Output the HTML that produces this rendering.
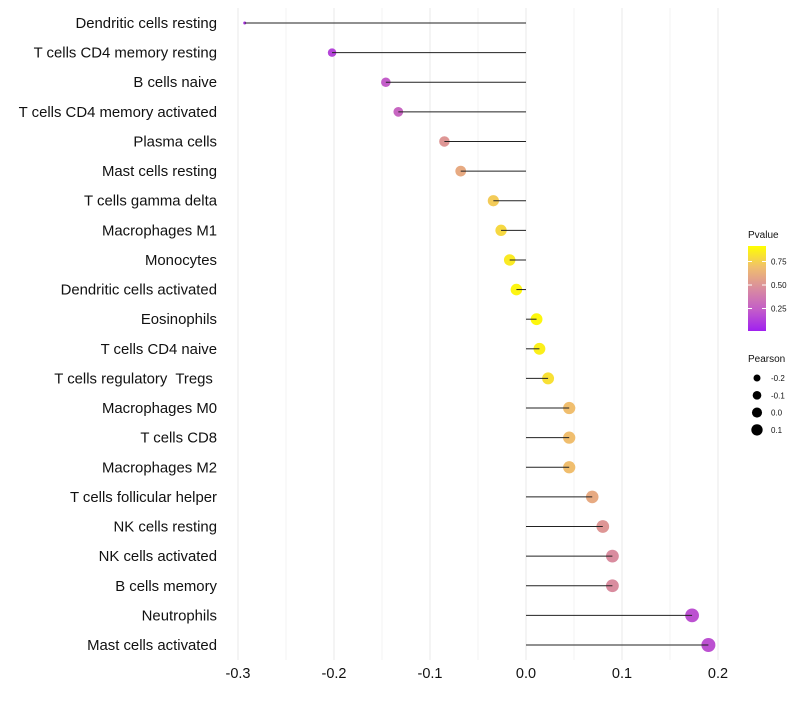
<!DOCTYPE html>
<html><head><meta charset="utf-8"><style>
body{margin:0;background:#fff;font-family:"Liberation Sans",sans-serif}
svg text{font-family:"Liberation Sans",sans-serif;white-space:pre}
</style></head><body>
<svg id="c" width="800" height="700"></svg>
<script>
const categories=["Dendritic cells resting","T cells CD4 memory resting","B cells naive","T cells CD4 memory activated","Plasma cells","Mast cells resting","T cells gamma delta","Macrophages M1","Monocytes","Dendritic cells activated","Eosinophils","T cells CD4 naive","T cells regulatory  Tregs ","Macrophages M0","T cells CD8","Macrophages M2","T cells follicular helper","NK cells resting","NK cells activated","B cells memory","Neutrophils","Mast cells activated"];
const pearson=[-0.293,-0.202,-0.146,-0.133,-0.085,-0.068,-0.034,-0.026,-0.017,-0.010,0.011,0.014,0.023,0.045,0.045,0.045,0.069,0.080,0.090,0.090,0.173,0.190];
const pvalue=[0.08,0.15,0.25,0.3,0.55,0.65,0.8,0.85,0.92,0.96,0.97,0.94,0.88,0.75,0.75,0.75,0.65,0.55,0.5,0.5,0.2,0.2];
const xTicks=[-0.3,-0.2,-0.1,0.0,0.1,0.2];
const xTickLabels=["-0.3","-0.2","-0.1","0.0","0.1","0.2"];
const legendP=[0.75,0.50,0.25];
const legendPearson=[-0.2,-0.1,0.0,0.1];

const NS="http://www.w3.org/2000/svg";
const svg=document.getElementById('c');
function el(t,a,p){const e=document.createElementNS(NS,t);for(const k in a)e.setAttribute(k,a[k]);(p||svg).appendChild(e);return e;}
const x=v=>526+v*960;
const y=i=>23+i*(622/21);
function r(v){if(v<-0.2){return Math.max(1.2,1.5+(v+0.293)/0.093*2.8);}return Math.sqrt(18.5+78*(v+0.2));}
const stops=[[0,[160,32,240]],[0.25,[195,93,201]],[0.5,[217,140,159]],[0.75,[240,190,110]],[1,[255,255,0]]];
function col(p){for(let i=0;i<stops.length-1;i++){const[a,ca]=stops[i],[b,cb]=stops[i+1];if(p<=b){const t=(p-a)/(b-a);return`rgb(${ca.map((c,k)=>Math.round(c+(cb[k]-c)*t)).join(',')})`;}}return'rgb(255,255,0)';}

for(let v=-0.3;v<=0.2001;v+=0.05){const g=el('line',{x1:x(v),x2:x(v),y1:8,y2:660,stroke:'#ebebeb','stroke-width':Math.abs(Math.round(v*100)%10)<0.5?1.1:0.6});
}
xTicks.forEach((v,i)=>{const t=el('text',{x:x(v),y:678,'text-anchor':'middle','font-size':14.5,fill:'#111'});t.textContent=xTickLabels[i];
});

categories.forEach((c,i)=>{
 const t=el('text',{x:217,y:y(i)+5,'text-anchor':'end','font-size':14.9,fill:'#111'});t.textContent=c;
 
 const d=el('circle',{cx:x(pearson[i]),cy:y(i),r:r(pearson[i]),fill:col(pvalue[i])});
 
 const l=el('line',{x1:x(0),x2:x(pearson[i]),y1:y(i),y2:y(i),stroke:'#222','stroke-width':1});
 
});

const lt=el('text',{x:748,y:238,'font-size':10,fill:'#111'});lt.textContent='Pvalue';

const defs=el('defs',{});const lg=el('linearGradient',{id:'g',x1:0,y1:1,x2:0,y2:0},defs);
stops.forEach(s=>el('stop',{offset:s[0],'stop-color':col(s[0])},lg));
const bar=el('rect',{x:748,y:246,width:18,height:85,fill:'url(#g)'});

const py=p=>332-p*94;
legendP.forEach(p=>{el('line',{x1:748,x2:752,y1:py(p),y2:py(p),stroke:'#fff'});el('line',{x1:762,x2:766,y1:py(p),y2:py(p),stroke:'#fff'});
 const t=el('text',{x:771,y:py(p)+3,'font-size':8,fill:'#111'});t.textContent=p.toFixed(2);
 });
const pt=el('text',{x:748,y:362,'font-size':10,fill:'#111'});pt.textContent='Pearson';

legendPearson.forEach((v,i)=>{const cy=378+i*17.3;
 const c=el('circle',{cx:757,cy:cy,r:r(v)-0.8,fill:'#000'});
 
 const t=el('text',{x:771,y:cy+3,'font-size':8,fill:'#111'});t.textContent=v.toFixed(1).replace('-0.0','0.0');
 });
</script>
</body></html>
